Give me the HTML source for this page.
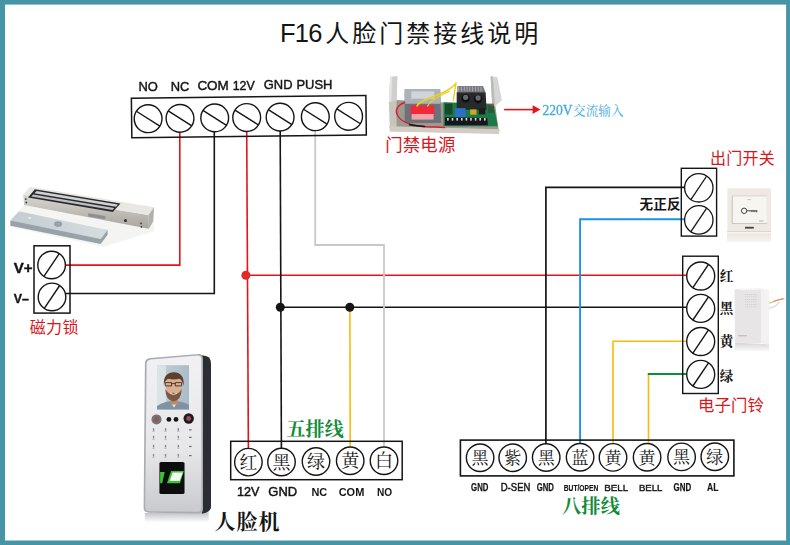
<!DOCTYPE html>
<html lang="zh"><head><meta charset="utf-8"><title>F16 wiring</title><style>html,body{margin:0;padding:0;background:#fff;}body{width:790px;height:545px;overflow:hidden;font-family:"Liberation Sans",sans-serif;}</style></head><body>
<svg width="790" height="545" viewBox="0 0 790 545" style="display:block"><rect x="0" y="0" width="790" height="545" fill="#4595a7"/>
<rect x="5" y="4.6" width="781.1" height="535.9" fill="#fff"/>
<path d="M179.8 130.0 L179.8 265.1 L60.0 265.1" fill="none" stroke="#e3151b" stroke-width="1.6" stroke-linejoin="miter"/>
<path d="M214.3 130.0 L214.3 293.5 L60.0 293.5" fill="none" stroke="#151515" stroke-width="1.6" stroke-linejoin="miter"/>
<path d="M246.7 130.0 L248.4 450.0" fill="none" stroke="#e3151b" stroke-width="1.6" stroke-linejoin="miter"/>
<path d="M247.4 275.3 L690.0 275.3" fill="none" stroke="#e3151b" stroke-width="1.6" stroke-linejoin="miter"/>
<path d="M280.2 130.0 L281.4 450.0" fill="none" stroke="#151515" stroke-width="1.6" stroke-linejoin="miter"/>
<path d="M280.9 307.3 L690.0 307.3" fill="none" stroke="#151515" stroke-width="1.6" stroke-linejoin="miter"/>
<path d="M349.9 307.3 L350.2 450.0" fill="none" stroke="#f6bb0c" stroke-width="1.6" stroke-linejoin="miter"/>
<path d="M315.2 130.0 L315.2 245.0 L384.0 245.0 L384.0 452.0" fill="none" stroke="#c8c8c8" stroke-width="1.8" stroke-linejoin="miter"/>
<path d="M690.0 187.4 L545.9 187.4 L545.9 450.0" fill="none" stroke="#151515" stroke-width="1.7" stroke-linejoin="miter"/>
<path d="M690.0 219.3 L580.1 219.3 L580.1 450.0" fill="none" stroke="#1b93e0" stroke-width="1.9" stroke-linejoin="miter"/>
<path d="M690.0 341.3 L613.0 341.3 L613.0 450.0" fill="none" stroke="#f6bb0c" stroke-width="1.6" stroke-linejoin="miter"/>
<path d="M648.5 374.0 L648.5 450.0" fill="none" stroke="#f6bb0c" stroke-width="1.6" stroke-linejoin="miter"/>
<path d="M690.0 374.0 L647.8 374.0" fill="none" stroke="#128b38" stroke-width="1.9" stroke-linejoin="miter"/>
<circle cx="245.9" cy="275.2" r="4.5" fill="#e02a2a"/>
<circle cx="280.3" cy="307.3" r="4.5" fill="#151515"/>
<circle cx="349.8" cy="307.3" r="4.5" fill="#151515"/>
<g transform="rotate(-0.69 249 117)">
<rect x="131.6" y="96.9" width="234.5" height="39.5" fill="none" stroke="#151515" stroke-width="1.5"/>
<circle cx="148.1" cy="117.5" r="13.9" fill="#fff" stroke="#151515" stroke-width="1.4"/><line x1="136.4" y1="109.9" x2="159.8" y2="125.1" stroke="#151515" stroke-width="1.4"/>
<circle cx="180.0" cy="117.5" r="13.9" fill="#fff" stroke="#151515" stroke-width="1.4"/><line x1="168.3" y1="109.9" x2="191.7" y2="125.1" stroke="#151515" stroke-width="1.4"/>
<circle cx="214.7" cy="117.5" r="13.9" fill="#fff" stroke="#151515" stroke-width="1.4"/><line x1="203.0" y1="109.9" x2="226.4" y2="125.1" stroke="#151515" stroke-width="1.4"/>
<circle cx="246.7" cy="117.5" r="13.9" fill="#fff" stroke="#151515" stroke-width="1.4"/><line x1="235.0" y1="109.9" x2="258.4" y2="125.1" stroke="#151515" stroke-width="1.4"/>
<circle cx="280.1" cy="117.5" r="13.9" fill="#fff" stroke="#151515" stroke-width="1.4"/><line x1="268.4" y1="109.9" x2="291.8" y2="125.1" stroke="#151515" stroke-width="1.4"/>
<circle cx="315.3" cy="117.5" r="13.9" fill="#fff" stroke="#151515" stroke-width="1.4"/><line x1="303.6" y1="109.9" x2="327.0" y2="125.1" stroke="#151515" stroke-width="1.4"/>
<circle cx="348.6" cy="117.5" r="13.9" fill="#fff" stroke="#151515" stroke-width="1.4"/><line x1="336.9" y1="109.9" x2="360.3" y2="125.1" stroke="#151515" stroke-width="1.4"/>
</g>
<text opacity="0.999" x="138.4" y="90.7" style="font-family:'Liberation Sans',sans-serif" font-size="13.5px" font-weight="normal" fill="#151515" text-anchor="start" textLength="19.4" lengthAdjust="spacingAndGlyphs" stroke="#151515" stroke-width="0.45">NO</text>
<text opacity="0.999" x="170.8" y="90.7" style="font-family:'Liberation Sans',sans-serif" font-size="13.5px" font-weight="normal" fill="#151515" text-anchor="start" textLength="18.6" lengthAdjust="spacingAndGlyphs" stroke="#151515" stroke-width="0.45">NC</text>
<text opacity="0.999" x="197.4" y="89.9" style="font-family:'Liberation Sans',sans-serif" font-size="13.5px" font-weight="normal" fill="#151515" text-anchor="start" textLength="31.4" lengthAdjust="spacingAndGlyphs" stroke="#151515" stroke-width="0.45">COM</text>
<text opacity="0.999" x="232.7" y="89.6" style="font-family:'Liberation Sans',sans-serif" font-size="13.5px" font-weight="normal" fill="#151515" text-anchor="start" textLength="22.0" lengthAdjust="spacingAndGlyphs" stroke="#151515" stroke-width="0.45">12V</text>
<text opacity="0.999" x="263.8" y="88.7" style="font-family:'Liberation Sans',sans-serif" font-size="13.5px" font-weight="normal" fill="#151515" text-anchor="start" textLength="28.7" lengthAdjust="spacingAndGlyphs" stroke="#151515" stroke-width="0.45">GND</text>
<text opacity="0.999" x="296.5" y="88.7" style="font-family:'Liberation Sans',sans-serif" font-size="13.5px" font-weight="normal" fill="#151515" text-anchor="start" textLength="35.9" lengthAdjust="spacingAndGlyphs" stroke="#151515" stroke-width="0.45">PUSH</text>
<rect x="34.0" y="245.8" width="36.0" height="67.3" fill="none" stroke="#151515" stroke-width="1.5"/>
<circle cx="51.6" cy="265.0" r="13.8" fill="#fff" stroke="#151515" stroke-width="1.4"/><line x1="43.9" y1="276.4" x2="59.3" y2="253.6" stroke="#151515" stroke-width="1.4"/>
<circle cx="52.0" cy="296.9" r="13.8" fill="#fff" stroke="#151515" stroke-width="1.4"/><line x1="44.3" y1="308.3" x2="59.7" y2="285.5" stroke="#151515" stroke-width="1.4"/>
<text opacity="0.999" x="13.8" y="272.6" style="font-family:'Liberation Sans',sans-serif" font-size="14.8px" font-weight="bold" fill="#151515" text-anchor="start" textLength="18.8" lengthAdjust="spacingAndGlyphs" stroke="#151515" stroke-width="0.40">V+</text>
<text opacity="0.999" x="13.8" y="303.3" style="font-family:'Liberation Sans',sans-serif" font-size="13.7px" font-weight="bold" fill="#151515" text-anchor="start" textLength="15.1" lengthAdjust="spacingAndGlyphs" stroke="#151515" stroke-width="0.40">V–</text>
<text x="29.8" y="332.5" style="font-family:'Liberation Sans','Noto Sans CJK SC',sans-serif" font-size="16px" fill="#d9161c" text-anchor="start" textLength="48.6" lengthAdjust="spacing">磁力锁</text>
<rect x="681.3" y="168.3" width="35.3" height="67.8" fill="none" stroke="#151515" stroke-width="1.4"/>
<circle cx="698.8" cy="187.8" r="14.2" fill="#fff" stroke="#151515" stroke-width="1.3"/><line x1="690.9" y1="199.6" x2="706.7" y2="176.0" stroke="#151515" stroke-width="1.3"/>
<circle cx="698.8" cy="219.9" r="14.2" fill="#fff" stroke="#151515" stroke-width="1.3"/><line x1="690.9" y1="231.7" x2="706.7" y2="208.1" stroke="#151515" stroke-width="1.3"/>
<text x="639.6" y="208.8" style="font-family:'Liberation Sans','Noto Sans CJK SC',sans-serif" font-size="13.6px" font-weight="bold" fill="#151515" text-anchor="start" textLength="41" lengthAdjust="spacing">无正反</text>
<text x="710" y="164.2" style="font-family:'Liberation Sans','Noto Sans CJK SC',sans-serif" font-size="16px" fill="#d9161c" text-anchor="start" textLength="64.7" lengthAdjust="spacing">出门开关</text>
<rect x="682.7" y="256.2" width="35.6" height="137.3" fill="none" stroke="#151515" stroke-width="1.4"/>
<circle cx="700.7" cy="276.0" r="14.0" fill="#fff" stroke="#151515" stroke-width="1.4"/><line x1="692.9" y1="287.6" x2="708.5" y2="264.4" stroke="#151515" stroke-width="1.4"/>
<circle cx="700.7" cy="308.4" r="14.0" fill="#fff" stroke="#151515" stroke-width="1.4"/><line x1="692.9" y1="320.0" x2="708.5" y2="296.8" stroke="#151515" stroke-width="1.4"/>
<circle cx="700.7" cy="341.5" r="14.0" fill="#fff" stroke="#151515" stroke-width="1.4"/><line x1="692.9" y1="353.1" x2="708.5" y2="329.9" stroke="#151515" stroke-width="1.4"/>
<circle cx="700.7" cy="374.4" r="14.0" fill="#fff" stroke="#151515" stroke-width="1.4"/><line x1="692.9" y1="386.0" x2="708.5" y2="362.8" stroke="#151515" stroke-width="1.4"/>
<text x="719.7" y="281.3" style="font-family:'Liberation Serif','Noto Serif CJK SC',serif" font-size="13.5px" font-weight="bold" fill="#151515" text-anchor="start">红</text>
<text x="719.7" y="313.2" style="font-family:'Liberation Serif','Noto Serif CJK SC',serif" font-size="13.5px" font-weight="bold" fill="#151515" text-anchor="start">黑</text>
<text x="719.7" y="345.5" style="font-family:'Liberation Serif','Noto Serif CJK SC',serif" font-size="13.5px" font-weight="bold" fill="#151515" text-anchor="start">黄</text>
<text x="719.7" y="380.9" style="font-family:'Liberation Serif','Noto Serif CJK SC',serif" font-size="13.5px" font-weight="bold" fill="#151515" text-anchor="start">绿</text>
<text x="698" y="410.8" style="font-family:'Liberation Sans','Noto Sans CJK SC',sans-serif" font-size="16.4px" fill="#d9161c" text-anchor="start" textLength="66" lengthAdjust="spacing">电子门铃</text>
<rect x="230.7" y="441.3" width="171.5" height="38.4" fill="none" stroke="#151515" stroke-width="1.5"/>
<circle cx="248.4" cy="462.1" r="13.75" fill="#fff" stroke="#151515" stroke-width="1.4"/>
<text x="248.4" y="468.6" style="font-family:'Liberation Serif','Noto Serif CJK SC',serif" font-size="18px" fill="#151515" text-anchor="middle">红</text>
<circle cx="281.5" cy="462.0" r="13.75" fill="#fff" stroke="#151515" stroke-width="1.4"/>
<text x="281.5" y="468.5" style="font-family:'Liberation Serif','Noto Serif CJK SC',serif" font-size="18px" fill="#151515" text-anchor="middle">黑</text>
<circle cx="316.0" cy="461.5" r="13.75" fill="#fff" stroke="#151515" stroke-width="1.4"/>
<text x="316.0" y="468.0" style="font-family:'Liberation Serif','Noto Serif CJK SC',serif" font-size="18px" fill="#151515" text-anchor="middle">绿</text>
<circle cx="350.2" cy="460.8" r="13.75" fill="#fff" stroke="#151515" stroke-width="1.4"/>
<text x="350.2" y="467.4" style="font-family:'Liberation Serif','Noto Serif CJK SC',serif" font-size="18px" fill="#151515" text-anchor="middle">黄</text>
<circle cx="384.0" cy="460.7" r="13.75" fill="#fff" stroke="#151515" stroke-width="1.4"/>
<text x="384.0" y="467.3" style="font-family:'Liberation Serif','Noto Serif CJK SC',serif" font-size="18px" fill="#151515" text-anchor="middle">白</text>
<text x="286.4" y="436.3" style="font-family:'Liberation Serif','Noto Serif CJK SC',serif" font-size="19px" font-weight="bold" fill="#128b38" text-anchor="start" textLength="57.3" lengthAdjust="spacing">五排线</text>
<text opacity="0.999" x="237.1" y="496.3" style="font-family:'Liberation Sans',sans-serif" font-size="13.5px" font-weight="normal" fill="#151515" text-anchor="start" textLength="22.4" lengthAdjust="spacingAndGlyphs" stroke="#151515" stroke-width="0.50">12V</text>
<text opacity="0.999" x="268.3" y="496.3" style="font-family:'Liberation Sans',sans-serif" font-size="13.5px" font-weight="normal" fill="#151515" text-anchor="start" textLength="28.8" lengthAdjust="spacingAndGlyphs" stroke="#151515" stroke-width="0.50">GND</text>
<text opacity="0.999" x="311.4" y="495.6" style="font-family:'Liberation Sans',sans-serif" font-size="10.2px" font-weight="bold" fill="#151515" text-anchor="start" textLength="15.8" lengthAdjust="spacingAndGlyphs">NC</text>
<text opacity="0.999" x="338.7" y="495.6" style="font-family:'Liberation Sans',sans-serif" font-size="10.2px" font-weight="bold" fill="#151515" text-anchor="start" textLength="25.6" lengthAdjust="spacingAndGlyphs">COM</text>
<text opacity="0.999" x="377.0" y="495.6" style="font-family:'Liberation Sans',sans-serif" font-size="10.2px" font-weight="bold" fill="#151515" text-anchor="start" textLength="15.2" lengthAdjust="spacingAndGlyphs">NO</text>
<rect x="460.4" y="440.1" width="273.5" height="35.8" fill="none" stroke="#151515" stroke-width="1.6"/>
<circle cx="480.1" cy="457.8" r="13.75" fill="#fff" stroke="#151515" stroke-width="1.4"/>
<text x="480.1" y="464.2" style="font-family:'Liberation Serif','Noto Serif CJK SC',serif" font-size="17px" fill="#151515" text-anchor="middle">黑</text>
<circle cx="512.7" cy="457.7" r="13.75" fill="#fff" stroke="#151515" stroke-width="1.4"/>
<text x="512.7" y="464.1" style="font-family:'Liberation Serif','Noto Serif CJK SC',serif" font-size="17px" fill="#151515" text-anchor="middle">紫</text>
<circle cx="546.2" cy="457.5" r="13.75" fill="#fff" stroke="#151515" stroke-width="1.4"/>
<text x="546.2" y="463.9" style="font-family:'Liberation Serif','Noto Serif CJK SC',serif" font-size="17px" fill="#151515" text-anchor="middle">黑</text>
<circle cx="580.1" cy="457.3" r="13.75" fill="#fff" stroke="#151515" stroke-width="1.4"/>
<text x="580.1" y="463.7" style="font-family:'Liberation Serif','Noto Serif CJK SC',serif" font-size="17px" fill="#151515" text-anchor="middle">蓝</text>
<circle cx="613.0" cy="457.4" r="13.75" fill="#fff" stroke="#151515" stroke-width="1.4"/>
<text x="613.0" y="463.8" style="font-family:'Liberation Serif','Noto Serif CJK SC',serif" font-size="17px" fill="#151515" text-anchor="middle">黄</text>
<circle cx="647.1" cy="457.2" r="13.75" fill="#fff" stroke="#151515" stroke-width="1.4"/>
<text x="647.1" y="463.6" style="font-family:'Liberation Serif','Noto Serif CJK SC',serif" font-size="17px" fill="#151515" text-anchor="middle">黄</text>
<circle cx="681.6" cy="456.9" r="13.75" fill="#fff" stroke="#151515" stroke-width="1.4"/>
<text x="681.6" y="463.3" style="font-family:'Liberation Serif','Noto Serif CJK SC',serif" font-size="17px" fill="#151515" text-anchor="middle">黑</text>
<circle cx="714.8" cy="456.7" r="13.75" fill="#fff" stroke="#151515" stroke-width="1.4"/>
<text x="714.8" y="463.1" style="font-family:'Liberation Serif','Noto Serif CJK SC',serif" font-size="17px" fill="#151515" text-anchor="middle">绿</text>
<text opacity="0.999" x="471.1" y="490.6" style="font-family:'Liberation Sans',sans-serif" font-size="10.8px" font-weight="bold" fill="#151515" text-anchor="start" textLength="17.3" lengthAdjust="spacingAndGlyphs" stroke="#151515" stroke-width="0.25">GND</text>
<text opacity="0.999" x="500.7" y="490.6" style="font-family:'Liberation Sans',sans-serif" font-size="10.9px" font-weight="normal" fill="#151515" text-anchor="start" textLength="29.7" lengthAdjust="spacingAndGlyphs" stroke="#151515" stroke-width="0.45">D-SEN</text>
<text opacity="0.999" x="536.7" y="490.6" style="font-family:'Liberation Sans',sans-serif" font-size="10.8px" font-weight="bold" fill="#151515" text-anchor="start" textLength="17.2" lengthAdjust="spacingAndGlyphs" stroke="#151515" stroke-width="0.25">GND</text>
<text opacity="0.999" x="563.8" y="490.6" style="font-family:'Liberation Sans',sans-serif" font-size="8.6px" font-weight="bold" fill="#151515" text-anchor="start" textLength="34.5" lengthAdjust="spacingAndGlyphs" stroke="#151515" stroke-width="0.15">BUT/OPEN</text>
<text opacity="0.999" x="604.3" y="490.6" style="font-family:'Liberation Sans',sans-serif" font-size="9.9px" font-weight="normal" fill="#151515" text-anchor="start" textLength="23.9" lengthAdjust="spacingAndGlyphs" stroke="#151515" stroke-width="0.40">BELL</text>
<text opacity="0.999" x="638.9" y="490.6" style="font-family:'Liberation Sans',sans-serif" font-size="9.9px" font-weight="normal" fill="#151515" text-anchor="start" textLength="23.5" lengthAdjust="spacingAndGlyphs" stroke="#151515" stroke-width="0.40">BELL</text>
<text opacity="0.999" x="673.5" y="490.6" style="font-family:'Liberation Sans',sans-serif" font-size="10.8px" font-weight="bold" fill="#151515" text-anchor="start" textLength="17.6" lengthAdjust="spacingAndGlyphs" stroke="#151515" stroke-width="0.25">GND</text>
<text opacity="0.999" x="707.1" y="490.6" style="font-family:'Liberation Sans',sans-serif" font-size="10.4px" font-weight="bold" fill="#151515" text-anchor="start" textLength="11.5" lengthAdjust="spacingAndGlyphs" stroke="#151515" stroke-width="0.15">AL</text>
<text x="562" y="513.1" style="font-family:'Liberation Serif','Noto Serif CJK SC',serif" font-size="19.3px" font-weight="bold" fill="#128b38" text-anchor="start" textLength="58" lengthAdjust="spacing">八排线</text>
<text x="280" y="41.7" style="font-family:'Liberation Sans','Noto Sans CJK SC',sans-serif" font-size="25.5px" fill="#151515" text-anchor="start" textLength="42.5" lengthAdjust="spacing">F16</text>
<text x="325.2" y="41.5" style="font-family:'Liberation Sans','Noto Sans CJK SC',sans-serif" font-size="24px" fill="#151515" text-anchor="start" textLength="213" lengthAdjust="spacing">人脸门禁接线说明</text>
<text x="385.3" y="150.8" style="font-family:'Liberation Sans','Noto Sans CJK SC',sans-serif" font-size="17.4px" fill="#d9161c" text-anchor="start" textLength="70" lengthAdjust="spacing">门禁电源</text>
<line x1="504.1" y1="109.6" x2="534" y2="109.6" stroke="#e3151b" stroke-width="1.6"/>
<path d="M540.4 109.6 L532.6 105.2 L532.6 114 Z" fill="#e3151b"/>
<text opacity="0.999" x="542.4" y="114.5" style="font-family:'Liberation Serif',serif" font-size="13.6px" font-weight="normal" fill="#45abde" text-anchor="start" textLength="30.2" lengthAdjust="spacingAndGlyphs" stroke="#45abde" stroke-width="0.30">220V</text>
<text x="573" y="114.6" style="font-family:'Liberation Serif','Noto Serif CJK SC',serif" font-size="12.6px" fill="#45abde" text-anchor="start" textLength="50.5" lengthAdjust="spacing">交流输入</text>
<text x="214.6" y="529" style="font-family:'Liberation Serif','Noto Serif CJK SC',serif" font-size="21px" font-weight="bold" fill="#151515" text-anchor="start" textLength="65" lengthAdjust="spacing">人脸机</text>
<defs><linearGradient id="gLockFront" x1="0" y1="0" x2="0" y2="1"><stop offset="0" stop-color="#d9d6d0"/><stop offset="1" stop-color="#a8a59e"/></linearGradient><linearGradient id="gPlate" x1="0" y1="0" x2="1" y2="0"><stop offset="0" stop-color="#c3ccd1"/><stop offset="1" stop-color="#d6dde1"/></linearGradient><linearGradient id="gDev" x1="0" y1="0" x2="0" y2="1"><stop offset="0" stop-color="#f1f1f3"/><stop offset="0.6" stop-color="#e7e7ea"/><stop offset="1" stop-color="#c9cacd"/></linearGradient><linearGradient id="gShadow" x1="0" y1="0" x2="0" y2="1"><stop offset="0" stop-color="#bfc0c3"/><stop offset="1" stop-color="#ffffff"/></linearGradient><linearGradient id="gBellSh" x1="0" y1="0" x2="0" y2="1"><stop offset="0" stop-color="#d5d3d3"/><stop offset="1" stop-color="#ffffff"/></linearGradient><linearGradient id="gSwRef" x1="0" y1="0" x2="0" y2="1"><stop offset="0" stop-color="#e9e4dd"/><stop offset="1" stop-color="#f8f6f3"/></linearGradient><linearGradient id="gScreen" x1="0" y1="0" x2="1" y2="0"><stop offset="0" stop-color="#c4d0d6"/><stop offset="1" stop-color="#a9bcc8"/></linearGradient><filter id="b1" x="-10%" y="-10%" width="120%" height="120%"><feGaussianBlur stdDeviation="0.45"/></filter><filter id="b2" x="-10%" y="-10%" width="120%" height="120%"><feGaussianBlur stdDeviation="0.8"/></filter></defs>
<g filter="url(#b1)">
<polygon points="8.6,226.6 103.3,247.1 154.9,231.0 152.8,221.3 23.7,205.1" fill="#f4f4f3" />
<polygon points="10.3,220.6 10.3,225.8 100.7,243.9 107.6,234.8 107.6,229.9" fill="#98a3a9" />
<polygon points="18.9,211.2 107.6,229.9 100.7,239.1 10.3,220.6" fill="url(#gPlate)" />
<ellipse cx="58.1" cy="224.1" rx="3.6" ry="2.4" fill="#9aa4aa" stroke="#7d878d" stroke-width="0.6"/>
<ellipse cx="29.7" cy="218.0" rx="1.6" ry="1.1" fill="#e7ecee"/>
<polygon points="23.2,194.4 148.5,215.0 148.9,228.8 24.1,205.1" fill="url(#gLockFront)" />
<polygon points="30.1,186.8 154.1,207.3 148.5,215.0 23.2,194.4" fill="#e9e7e3" />
<polygon points="148.5,215.0 154.1,207.3 153.2,221.5 148.9,228.8" fill="#b3b0ab" />
<polygon points="34.9,189.2 120.5,203.4 112.8,212.0 28.0,197.4" fill="#2b2b2d" />
<polygon points="36.6,190.9 117.9,204.5 116.0,206.8 34.4,193.3" fill="#d2d2d4" />
<polygon points="33.1,194.4 114.3,207.9 112.5,210.1 31.2,196.5" fill="#bfbfc2" />
<circle cx="25.8" cy="199.1" r="0.9" fill="#3a3a3a"/>
<circle cx="26.3" cy="202.5" r="0.9" fill="#3a3a3a"/>
<circle cx="141.0" cy="223.4" r="0.9" fill="#3a3a3a"/>
<circle cx="141.4" cy="226.9" r="0.9" fill="#3a3a3a"/>
<circle cx="125.5" cy="220.6" r="1.5" fill="#2f2f30"/>
<polygon points="88.2,213.3 105.4,216.1 105.4,219.3 88.2,216.5" fill="#8d8f95" />
</g>
<g filter="url(#b1)">
<polygon points="396.5,99.9 495.2,105.3 498.8,130.5 389.5,127.9" fill="#9d9991" />
<polygon points="390.2,76.8 397.4,76.0 396.8,100.4 388.9,102.2" fill="#cfcfcd" />
<polygon points="390.2,76.8 392.2,76.7 391.2,101.9 388.9,102.2" fill="#e4e4e2" />
<polygon points="490.6,76.2 497.5,77.3 501.8,100.2 495.5,106.1 492.2,105.0" fill="#d6d6d4" />
<polygon points="490.6,76.2 492.9,76.5 494.9,105.5 492.2,105.0" fill="#b9b9b6" />
<polygon points="388.9,102.2 389.9,131.2 498.8,133.6 499.5,129.5 396.5,127.2 396.5,100.2" fill="#c9c4bb" />
<polygon points="389.5,126.2 389.9,131.5 498.8,133.9 499.5,129.2" fill="#d2cdc4" />
<polygon points="443.5,102.2 493.5,103.8 497.8,126.2 443.5,126.2" fill="#1f7a48" />
<polygon points="457.3,86.1 483.0,86.1 485.6,92.6 457.3,92.6" fill="#74777c" />
<line x1="458.7" y1="86.4" x2="458.7" y2="91.3" stroke="#b9bcc0" stroke-width="0.8"/>
<line x1="461.5" y1="86.4" x2="461.5" y2="91.3" stroke="#b9bcc0" stroke-width="0.8"/>
<line x1="464.3" y1="86.4" x2="464.3" y2="91.3" stroke="#b9bcc0" stroke-width="0.8"/>
<line x1="467.0" y1="86.4" x2="467.0" y2="91.3" stroke="#b9bcc0" stroke-width="0.8"/>
<line x1="469.8" y1="86.4" x2="469.8" y2="91.3" stroke="#b9bcc0" stroke-width="0.8"/>
<line x1="472.6" y1="86.4" x2="472.6" y2="91.3" stroke="#b9bcc0" stroke-width="0.8"/>
<line x1="475.4" y1="86.4" x2="475.4" y2="91.3" stroke="#b9bcc0" stroke-width="0.8"/>
<line x1="478.2" y1="86.4" x2="478.2" y2="91.3" stroke="#b9bcc0" stroke-width="0.8"/>
<line x1="481.0" y1="86.4" x2="481.0" y2="91.3" stroke="#b9bcc0" stroke-width="0.8"/>
<polygon points="456.7,92.2 485.6,92.2 486.6,109.8 456.7,109.8" fill="#26292c" />
<circle cx="465.6" cy="98.4" r="4.2" fill="#111"/>
<circle cx="478.1" cy="99.1" r="4.2" fill="#111"/>
<circle cx="465.6" cy="97.3" r="2.6" fill="#66696e"/>
<circle cx="478.1" cy="97.9" r="2.6" fill="#66696e"/>
<polygon points="455.0,108.1 465.6,108.1 465.6,117.0 455.0,117.0" fill="#2b6fc4" />
<polygon points="470.2,109.4 476.4,109.4 476.4,114.7 470.2,114.7" fill="#d6a51e" />
<polygon points="445.0,103.7 452.4,103.7 452.4,114.4 445.0,114.4" fill="#184a2c" />
<polygon points="478.7,108.1 485.3,108.1 485.3,114.4 478.7,114.4" fill="#1a1c1e" />
<polygon points="487.8,105.3 493.5,105.5 494.2,112.7 487.8,112.7" fill="#2a5a3a" />
<circle cx="491.9" cy="105.0" r="1.2" fill="#c9342e"/>
<polygon points="445.0,117.3 487.3,118.0 487.9,125.2 445.0,125.2" fill="#17181a" />
<rect x="447.1" y="118.0" width="1.6" height="2.6" fill="#d9d9d9"/>
<rect x="451.7" y="118.0" width="1.6" height="2.6" fill="#d9d9d9"/>
<rect x="456.4" y="118.0" width="1.6" height="2.6" fill="#d9d9d9"/>
<rect x="461.0" y="118.0" width="1.6" height="2.6" fill="#d9d9d9"/>
<rect x="465.6" y="118.0" width="1.6" height="2.6" fill="#d9d9d9"/>
<rect x="470.2" y="118.0" width="1.6" height="2.6" fill="#d9d9d9"/>
<rect x="474.8" y="118.0" width="1.6" height="2.6" fill="#d9d9d9"/>
<rect x="479.4" y="118.0" width="1.6" height="2.6" fill="#d9d9d9"/>
<rect x="484.0" y="118.0" width="1.6" height="2.6" fill="#d9d9d9"/>
<polygon points="404.7,89.4 440.2,89.4 441.2,122.9 404.7,122.9" fill="#6d7178" />
<polygon points="404.7,89.0 440.2,89.0 440.6,103.8 404.7,103.8" fill="#aeb2b8" />
<polygon points="411.3,91.3 434.3,91.3 434.3,98.7 411.3,98.7" fill="#cfd5db" />
<polygon points="410.6,105.5 434.3,105.5 434.3,114.4 410.6,114.4" fill="#ef2a3d" />
<polygon points="411.6,114.0 433.6,114.0 433.6,119.6 411.6,119.6" fill="#f1a3ab" />
<path d="M417.0 106.1 C419.5 97.9 445.8 96.3 456.0 83.4" fill="none" stroke="#ecd01c" stroke-width="1.5" stroke-linecap="round"/>
<path d="M427.7 106.1 C429.4 100.4 442.5 94.6 449.1 91.3" fill="none" stroke="#ecd01c" stroke-width="1.3" stroke-linecap="round"/>
<path d="M456.0 83.4 C454.9 89.7 454.0 94.6 453.4 100.4" fill="none" stroke="#ecd01c" stroke-width="1.4" stroke-linecap="round"/>
<path d="M404.7 102.5 C389.9 107.8 394.8 122.6 419.5 126.2" fill="none" stroke="#d3202f" stroke-width="1.4" stroke-linecap="round"/>
<path d="M419.5 126.2 C429.4 127.9 435.9 126.2 444.5 127.5" fill="none" stroke="#d3202f" stroke-width="1.4" stroke-linecap="round"/>
<path d="M409.6 124.6 C414.6 125.6 419.5 125.9 424.4 126.5" fill="none" stroke="#1b1b1b" stroke-width="1.6" stroke-linecap="round"/>
</g>
<g filter="url(#b1)">
<polygon points="727.1,233.2 771.1,233.2 771.1,241.9 727.1,241.9" fill="url(#gSwRef)" />
<polygon points="727.4,188.3 771.1,188.3 771.1,232.0 727.4,232.0" fill="#eee9e2" />
<polygon points="727.4,188.3 771.1,188.3 771.1,189.2 727.4,189.2" fill="#f4f1ec" />
<polygon points="727.4,230.9 771.1,230.9 771.1,232.3 727.4,232.3" fill="#dcd5cb" />
<polygon points="731.8,195.7 766.9,195.7 766.9,223.8 731.8,223.8" fill="#c4bdb1" />
<polygon points="732.7,196.3 766.9,196.3 766.9,223.0 732.7,223.0" fill="#f7f5f1" />
</g>
<circle cx="744.1" cy="210.8" r="2.7" fill="none" stroke="#3c3c3c" stroke-width="0.95"/>
<path d="M746.8 210.8 h10.500 m-0.600 0 v1.500 m-1.800 -1.500 v1.300 m-1.800 -1.300 v1.300 m-1.800 -1.300 v1" fill="none" stroke="#3c3c3c" stroke-width="0.95"/>
<rect x="745" y="226.8" width="8.8" height="1.8" fill="#444"/>
<rect x="747.3" y="199.4" width="3.6" height="0.7" fill="#b5afa6"/>
<rect x="759" y="220.6" width="4.6" height="0.8" fill="#a9a39a"/>
<g filter="url(#b1)">
<polygon points="735.0,342.4 769.0,344.3 769.0,352.2 735.3,350.7" fill="url(#gBellSh)" />
<polygon points="734.5,289.1 761.1,288.5 761.1,343.4 735.0,342.5" fill="#e7e5e6" />
<polygon points="761.1,288.5 769.0,289.7 769.0,344.6 761.1,343.4" fill="#f3f2f2" />
<polygon points="734.5,289.1 761.1,288.5 769.0,289.7 742.6,290.0" fill="#f6f5f5" />
</g>
<rect x="744.96" y="294.09" width="1.2" height="0.6" fill="#c3c1c2"/>
<rect x="747.01" y="294.09" width="1.2" height="0.6" fill="#c3c1c2"/>
<rect x="749.06" y="294.09" width="1.2" height="0.6" fill="#c3c1c2"/>
<rect x="751.12" y="294.09" width="1.2" height="0.6" fill="#c3c1c2"/>
<rect x="753.17" y="294.09" width="1.2" height="0.6" fill="#c3c1c2"/>
<rect x="755.23" y="294.09" width="1.2" height="0.6" fill="#c3c1c2"/>
<rect x="744.96" y="296.58" width="1.2" height="0.6" fill="#c3c1c2"/>
<rect x="747.01" y="296.58" width="1.2" height="0.6" fill="#c3c1c2"/>
<rect x="749.06" y="296.58" width="1.2" height="0.6" fill="#c3c1c2"/>
<rect x="751.12" y="296.58" width="1.2" height="0.6" fill="#c3c1c2"/>
<rect x="753.17" y="296.58" width="1.2" height="0.6" fill="#c3c1c2"/>
<rect x="755.23" y="296.58" width="1.2" height="0.6" fill="#c3c1c2"/>
<rect x="744.96" y="299.08" width="1.2" height="0.6" fill="#c3c1c2"/>
<rect x="747.01" y="299.08" width="1.2" height="0.6" fill="#c3c1c2"/>
<rect x="749.06" y="299.08" width="1.2" height="0.6" fill="#c3c1c2"/>
<rect x="751.12" y="299.08" width="1.2" height="0.6" fill="#c3c1c2"/>
<rect x="753.17" y="299.08" width="1.2" height="0.6" fill="#c3c1c2"/>
<rect x="755.23" y="299.08" width="1.2" height="0.6" fill="#c3c1c2"/>
<rect x="744.96" y="301.57" width="1.2" height="0.6" fill="#c3c1c2"/>
<rect x="747.01" y="301.57" width="1.2" height="0.6" fill="#c3c1c2"/>
<rect x="749.06" y="301.57" width="1.2" height="0.6" fill="#c3c1c2"/>
<rect x="751.12" y="301.57" width="1.2" height="0.6" fill="#c3c1c2"/>
<rect x="753.17" y="301.57" width="1.2" height="0.6" fill="#c3c1c2"/>
<rect x="755.23" y="301.57" width="1.2" height="0.6" fill="#c3c1c2"/>
<rect x="744.96" y="304.06" width="1.2" height="0.6" fill="#c3c1c2"/>
<rect x="747.01" y="304.06" width="1.2" height="0.6" fill="#c3c1c2"/>
<rect x="749.06" y="304.06" width="1.2" height="0.6" fill="#c3c1c2"/>
<rect x="751.12" y="304.06" width="1.2" height="0.6" fill="#c3c1c2"/>
<rect x="753.17" y="304.06" width="1.2" height="0.6" fill="#c3c1c2"/>
<rect x="755.23" y="304.06" width="1.2" height="0.6" fill="#c3c1c2"/>
<rect x="744.96" y="306.56" width="1.2" height="0.6" fill="#c3c1c2"/>
<rect x="747.01" y="306.56" width="1.2" height="0.6" fill="#c3c1c2"/>
<rect x="749.06" y="306.56" width="1.2" height="0.6" fill="#c3c1c2"/>
<rect x="751.12" y="306.56" width="1.2" height="0.6" fill="#c3c1c2"/>
<rect x="753.17" y="306.56" width="1.2" height="0.6" fill="#c3c1c2"/>
<rect x="755.23" y="306.56" width="1.2" height="0.6" fill="#c3c1c2"/>
<rect x="738.3" y="335.2" width="8.6" height="1.1" fill="#b9b7b8"/>
<path d="M769.0 303.2 Q776.4 300.5 783.0 298.5" fill="none" stroke="#d4c24e" stroke-width="1.2"/>
<path d="M773.4 301.4 Q779.3 299.1 784.4 298.8" fill="none" stroke="#d97a7a" stroke-width="0.9"/>
<path d="M769.0 308.2 Q775.6 307.1 779.6 302.0" fill="none" stroke="#d2d2d2" stroke-width="1.1"/>
<g filter="url(#b1)">
<polygon points="144.9,512.9 208.6,512.2 208.6,522.5 144.9,522.5" fill="url(#gShadow)"/>
<path d="M198.6 354.5 L206.7 356.3 Q211.0 357.9 211.0 363.9 L211.0 506.9 Q211.0 512.2 201.9 513.7 Z" fill="#2b2d31"/>
<path d="M144.9 363.2 Q144.9 358.6 150.2 357.9 L198.6 354.0 Q203.0 354.0 203.0 359.1 L203.0 509.4 Q203.0 513.4 198.6 513.4 L149.0 512.7 Q143.6 512.7 143.6 508.1 Z" fill="#a9acb1"/>
<path d="M146.6 363.9 Q146.6 359.9 150.9 359.4 L197.4 355.6 Q201.4 355.6 201.4 359.6 L201.4 508.1 Q201.4 511.7 197.7 511.7 L149.5 511.2 Q145.2 511.2 145.2 507.4 Z" fill="url(#gDev)"/>
<rect x="157.0" y="365.2" width="32.0" height="44.3" fill="url(#gScreen)"/>
<clipPath id="scr"><rect x="157.0" y="365.2" width="32.0" height="44.3"/></clipPath>
<g clip-path="url(#scr)">
<rect x="157.0" y="365.2" width="9" height="44.3" fill="#e3e9ec" opacity="0.75"/>
<ellipse cx="174.0" cy="413.6" rx="21" ry="12.5" fill="#7f92a4"/>
<path d="M170.6 402.5 l3.400 5 l3.400 -5z" fill="#e9edf0"/>
<rect x="170.6" y="397.1" width="7.4" height="7.5" fill="#bd8a6b"/>
<ellipse cx="173.5" cy="385.2" rx="8.2" ry="11.4" fill="#dcae90"/>
<path d="M163.9 385.3 q-1 -12.500 10 -13 q11 0.500 9.600 13.500 q-1.500 -6 -4 -7 q-5.500 1.500 -11.500 0 q-3 1.500 -4.100 6.500z" fill="#5d402b"/>
<path d="M165.3 389.1 q0.300 11.500 8.200 12.300 q7.900 -0.800 8.200 -12.300 q-2.500 4 -4.500 4.500 q-3.700 -1.500 -7.400 0 q-2 -0.500 -4.500 -4.500z" fill="#7b5842"/>
<path d="M165.3 382.6 h6.300 v3.300 h-6.300z m10 0 h6.300 v3.300 h-6.300z m-3.700 1 h3.700" stroke="#3a2f2b" stroke-width="0.9" fill="none"/>
<path d="M170.1 393.3 q3.400 2.400 6.800 0" stroke="#f3e9e2" stroke-width="1" fill="none"/>
</g>
<circle cx="156.5" cy="419.4" r="5.0" fill="#737378"/>
<circle cx="156.5" cy="419.4" r="2.6" fill="#8a5a5c"/>
<circle cx="168.9" cy="419.4" r="2.4" fill="#17181a"/>
<circle cx="176.0" cy="419.4" r="2.4" fill="#17181a"/>
<circle cx="188.7" cy="418.5" r="5.2" fill="#1d1d20"/>
<circle cx="188.7" cy="418.5" r="2.4" fill="#a04a5a"/>
</g>
<rect x="152.9" y="428.2" width="1.3" height="2.6" fill="#85868a"/>
<rect x="152.4" y="431.4" width="2.2" height="0.6" fill="#a3a4a8"/>
<rect x="164.9" y="428.2" width="1.3" height="2.6" fill="#85868a"/>
<rect x="164.4" y="431.4" width="2.2" height="0.6" fill="#a3a4a8"/>
<rect x="177.7" y="428.2" width="1.3" height="2.6" fill="#85868a"/>
<rect x="177.2" y="431.4" width="2.2" height="0.6" fill="#a3a4a8"/>
<rect x="189.0" y="429.2" width="2.6" height="1.2" fill="#6f7074"/>
<rect x="152.9" y="435.8" width="1.3" height="2.6" fill="#85868a"/>
<rect x="152.4" y="439.0" width="2.2" height="0.6" fill="#a3a4a8"/>
<rect x="164.9" y="435.8" width="1.3" height="2.6" fill="#85868a"/>
<rect x="164.4" y="439.0" width="2.2" height="0.6" fill="#a3a4a8"/>
<rect x="177.7" y="435.8" width="1.3" height="2.6" fill="#85868a"/>
<rect x="177.2" y="439.0" width="2.2" height="0.6" fill="#a3a4a8"/>
<rect x="189.0" y="436.8" width="2.6" height="1.2" fill="#6f7074"/>
<rect x="152.9" y="444.9" width="1.3" height="2.6" fill="#85868a"/>
<rect x="152.4" y="448.1" width="2.2" height="0.6" fill="#a3a4a8"/>
<rect x="164.9" y="444.9" width="1.3" height="2.6" fill="#85868a"/>
<rect x="164.4" y="448.1" width="2.2" height="0.6" fill="#a3a4a8"/>
<rect x="177.7" y="444.9" width="1.3" height="2.6" fill="#85868a"/>
<rect x="177.2" y="448.1" width="2.2" height="0.6" fill="#a3a4a8"/>
<rect x="189.0" y="445.9" width="2.6" height="1.2" fill="#6f7074"/>
<rect x="152.9" y="454.0" width="1.3" height="2.6" fill="#85868a"/>
<rect x="152.4" y="457.2" width="2.2" height="0.6" fill="#a3a4a8"/>
<rect x="164.9" y="454.0" width="1.3" height="2.6" fill="#85868a"/>
<rect x="164.4" y="457.2" width="2.2" height="0.6" fill="#a3a4a8"/>
<rect x="177.7" y="454.0" width="1.3" height="2.6" fill="#85868a"/>
<rect x="177.2" y="457.2" width="2.2" height="0.6" fill="#a3a4a8"/>
<rect x="189.0" y="455.0" width="2.6" height="1.2" fill="#6f7074"/>
<g filter="url(#b1)">
<rect x="159.4" y="461.9" width="25.1" height="32.2" rx="1.6" fill="#0c0d0e"/>
<polygon points="160.1,472.1 164.7,472.1 162.2,483.2 160.1,483.2" fill="#37c531"/>
<polygon points="171.0,471.0 183.9,471.0 179.9,483.2 167.0,483.2" fill="#37c531"/>
<polygon points="172.6,472.6 182.9,472.6 179.6,480.9 169.7,480.9" fill="#f4f6f2"/>
</g></svg>
</body></html>
